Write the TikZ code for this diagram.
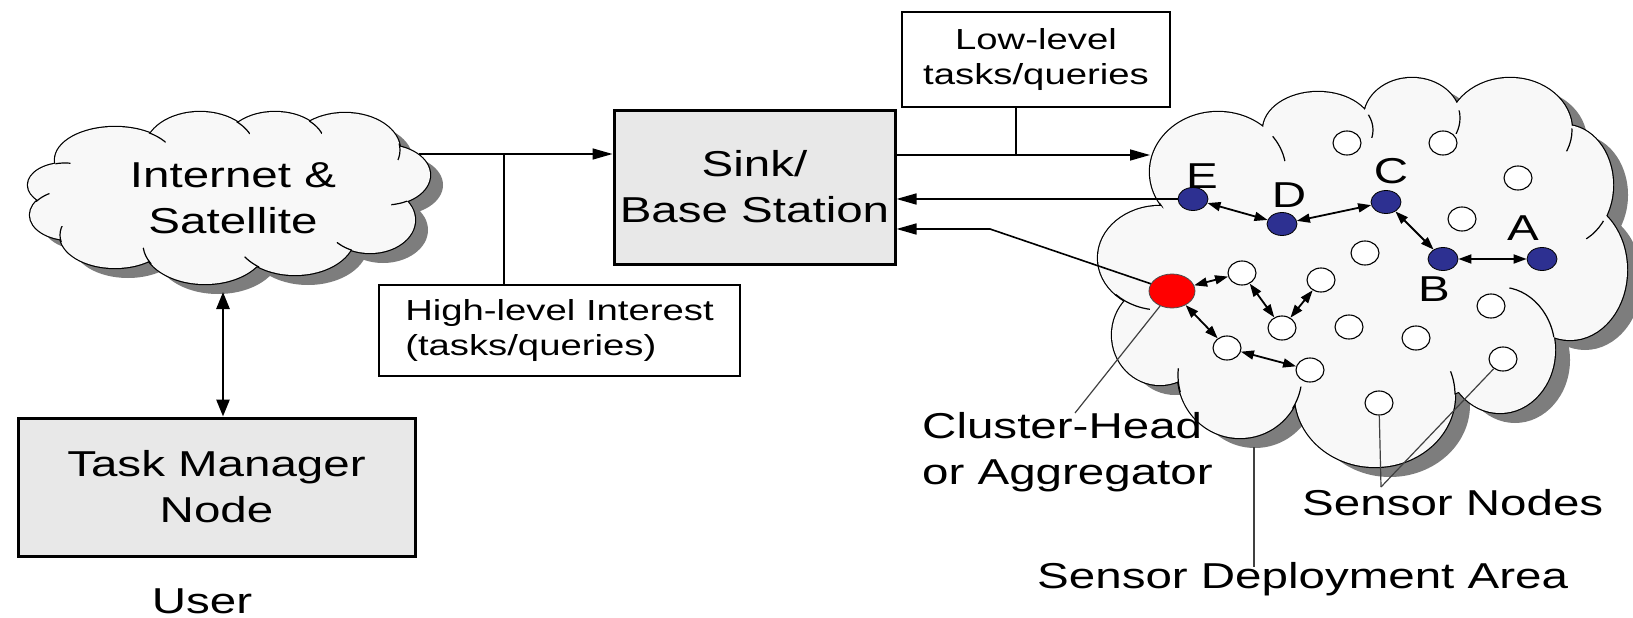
\documentclass[tikz,border=0pt]{standalone}
\usepackage{fontspec}
\setmainfont{Liberation Sans}
\usetikzlibrary{arrows.meta,shapes.geometric}
\definecolor{cloudfill}{RGB}{248,248,248}
\definecolor{shadowgray}{RGB}{125,125,125}
\definecolor{boxfill}{RGB}{232,232,232}
\definecolor{navy}{RGB}{45,48,145}
\newcommand{\Wd}[1]{\scalebox{1.32}[1]{#1}}
\newcommand{\bigf}{\fontsize{36}{46}\selectfont}
\newcommand{\smallf}{\fontsize{29}{34.5}\selectfont}
\newcommand{\tailarc}[7]{\begin{scope}\clip (#5,#6) circle [radius=#7]; \draw[line width=1.2pt] (#1,#2) ellipse [x radius=#3, y radius=#4];\end{scope}}
\tikzset{
  lcloud/.style={insert path={
    (115,160) ellipse [x radius=60, y radius=33]
    (200,150) ellipse [x radius=55, y radius=38]
    (275,145) ellipse [x radius=50, y radius=33]
    (345,150) ellipse [x radius=55, y radius=37]
    (385,175) ellipse [x radius=45, y radius=30]
    (370,220) ellipse [x radius=45, y radius=33]
    (295,235) ellipse [x radius=60, y radius=40]
    (205,244) ellipse [x radius=62, y radius=40]
    (115,235) ellipse [x radius=55, y radius=33]
    (70,215) ellipse [x radius=40, y radius=25]
    (65,185) ellipse [x radius=37, y radius=22]
    (230,195) ellipse [x radius=150, y radius=55]}},
  rcloud/.style={insert path={
    (1218,172) ellipse [x radius=68, y radius=60]
    (1318,130) ellipse [x radius=55, y radius=38]
    (1412,118) ellipse [x radius=48, y radius=40]
    (1510,130) ellipse [x radius=62, y radius=52]
    (1565,185) ellipse [x radius=48, y radius=60]
    (1570,270) ellipse [x radius=57, y radius=70]
    (1500,350) ellipse [x radius=55, y radius=63]
    (1375,395) ellipse [x radius=80, y radius=72]
    (1240,375) ellipse [x radius=62, y radius=63]
    (1160,335) ellipse [x radius=48, y radius=50]
    (1160,258) ellipse [x radius=62, y radius=52]
    (1360,270) ellipse [x radius=200, y radius=140]}}
}
\begin{document}
\begin{tikzpicture}[x=1pt,y=-1pt,
  graybox/.style={draw=black, line width=3pt, fill=boxfill, inner sep=0pt, align=center, font=\bigf},
  whitebox/.style={draw=black, line width=2.2pt, fill=white, inner sep=0pt, font=\smallf},
  conn/.style={line width=1.6pt, draw=black},
  arr/.style={conn, -{Triangle[length=20pt,width=11pt]}},
  wnode/.style={ellipse, draw=black, line width=1.1pt, fill=white, minimum width=28pt, minimum height=24pt, inner sep=0pt},
  bnode/.style={ellipse, draw=black, line width=0.8pt, fill=navy, minimum width=30pt, minimum height=23pt, inner sep=0pt},
  rnode/.style={ellipse, draw=black!70, line width=0.8pt, fill=red, minimum width=46pt, minimum height=34pt, inner sep=0pt},
  link/.style={line width=1.8pt, {Triangle[length=13pt,width=9pt]}-{Triangle[length=13pt,width=9pt]}},
  lead/.style={line width=1.2pt, draw=black!75},
  lbl/.style={font=\bigf, inner sep=0pt},
]
\useasboundingbox (0,0) rectangle (1633,618);

% left cloud
\fill[shadowgray, shift={(13,10)}, lcloud];
\draw[line width=2.4pt, lcloud];
\fill[cloudfill, lcloud];
\tailarc{115}{160}{60}{33}{156}{140}{10}
\tailarc{200}{150}{55}{38}{243}{128}{9}
\tailarc{275}{145}{50}{33}{316}{127}{9}
\tailarc{345}{150}{55}{37}{402}{152}{9}
\tailarc{385}{175}{45}{30}{400}{206}{9}
\tailarc{370}{220}{45}{33}{343}{249}{9}
\tailarc{295}{235}{60}{40}{251}{263}{9}
\tailarc{205}{244}{62}{40}{147}{256}{9}
\tailarc{115}{235}{55}{33}{62}{234}{8}
\tailarc{70}{215}{40}{25}{42}{196}{8}
\tailarc{65}{185}{37}{22}{63}{166}{8}

% right cloud
\fill[shadowgray, shift={(15,10)}, rcloud];
\draw[line width=2.4pt, rcloud];
\fill[cloudfill, rcloud];
\tailarc{1218}{172}{68}{60}{1280}{148}{14}
\tailarc{1318}{130}{55}{38}{1372}{126}{12}
\tailarc{1412}{118}{48}{40}{1457}{122}{12}
\tailarc{1510}{130}{62}{52}{1570}{140}{12}
\tailarc{1565}{185}{48}{60}{1597}{232}{13}
\tailarc{1500}{350}{55}{63}{1540}{305}{35}
\tailarc{1375}{395}{80}{72}{1452}{383}{12}
\tailarc{1240}{375}{62}{63}{1298}{398}{12}
\tailarc{1240}{375}{62}{63}{1180}{380}{12}
\tailarc{1160}{258}{62}{52}{1130}{308}{20}
\tailarc{1218}{172}{68}{60}{1152}{212}{12}

% boxes and texts
\node[lbl, align=center] (inet) at (233,198.5) {\Wd{Internet \&}\\\Wd{Satellite}};
\node[graybox, minimum width=281pt, minimum height=154pt] (sink) at (754.5,187) {\Wd{Sink/}\\\Wd{Base Station}};
\node[graybox, minimum width=397pt, minimum height=138pt] (task) at (216.5,487) {\Wd{Task Manager}\\\Wd{Node}};
\node[whitebox, minimum width=361pt, minimum height=91pt, align=left] (high) at (559.5,330.5) {\Wd{High-level Interest}\\\Wd{(tasks/queries)}};
\node[whitebox, minimum width=268pt, minimum height=95pt, align=center] (low) at (1036,59.5) {\Wd{Low-level}\\\Wd{tasks/queries}};
\node[lbl, anchor=base] (user) at (202,613) {\Wd{User}};

% sensor nodes
\node[bnode] (nE) at (1193,199) {};
\node[bnode] (nD) at (1282,224) {};
\node[bnode] (nC) at (1386,202) {};
\node[bnode] (nB) at (1443,259) {};
\node[bnode] (nA) at (1542,259) {};
\node[rnode] (nR) at (1172,291) {};
\node[wnode] (w1) at (1242,273) {};
\node[wnode] (w2) at (1321,280) {};
\node[wnode] (w3) at (1282,328) {};
\node[wnode] (w4) at (1227,348) {};
\node[wnode] (w5) at (1310,370) {};
\node[wnode] (w6) at (1347,143) {};
\node[wnode] (w7) at (1443,143) {};
\node[wnode] (w8) at (1518,178) {};
\node[wnode] (w9) at (1462,219) {};
\node[wnode] (w10) at (1365,253) {};
\node[wnode] (w11) at (1349,327) {};
\node[wnode] (w12) at (1416,338) {};
\node[wnode] (w13) at (1491,306) {};
\node[wnode] (w14) at (1503,359) {};
\node[wnode] (w15) at (1379,403) {};

\node[lbl, anchor=base] (lE) at (1202,188) {\Wd{E}};
\node[lbl, anchor=base] (lD) at (1289,207) {\Wd{D}};
\node[lbl, anchor=base] (lC) at (1391,183) {\Wd{C}};
\node[lbl, anchor=base] (lB) at (1434,301) {\Wd{B}};
\node[lbl, anchor=base] (lA) at (1523,240) {\Wd{A}};

\node[lbl, align=left, anchor=west] (clh) at (922,452) {\Wd{Cluster-Head}\\\Wd{or Aggregator}};
\node[lbl, anchor=base west] (sda) at (1037,588) {\Wd{Sensor Deployment Area}};
\node[lbl, anchor=base west] (sns) at (1302,515) {\Wd{Sensor Nodes}};

% connectors
\coordinate (cb) at (223,292);
\draw[line width=2.7pt, {Triangle[length=17pt,width=13pt]}-{Triangle[length=17pt,width=13pt]}] (cb) -- (cb |- task.north);

\coordinate (lcR) at (419,154);
\draw[arr] (lcR) -- (lcR -| sink.west);
\coordinate (hj) at (504,154);
\draw[conn] (hj) -- (hj |- high.north);

\coordinate (rcL) at (1150,155);
\draw[arr] (rcL -| sink.east) -- (rcL);
\coordinate (lj) at (1016,155);
\draw[conn] (low.south -| lj) -- (lj);

\draw[arr] (nE.west) -- (nE.west -| sink.east);
\coordinate (rk) at (990,229);
\draw[arr] (nR) -- (rk) -- (rk -| sink.east);

\draw[link] (nE) -- (nD);
\draw[link] (nD) -- (nC);
\draw[link] (nC) -- (nB);
\draw[link] (nB) -- (nA);
\draw[link] (nR) -- (w1);
\draw[link] (w1) -- (w3);
\draw[link] (w2) -- (w3);
\draw[link] (nR) -- (w4);
\draw[link] (w4) -- (w5);

% leaders
\coordinate (clhTip) at (1075,413);
\draw[lead] (nR) -- (clhTip);
\coordinate (sdTop) at (1254,447);
\coordinate (sdBot) at (1254,567);
\draw[lead] (sdTop) -- (sdBot);
\coordinate (snJ) at (1381,487);
\draw[lead] (w15) -- (snJ);
\draw[lead] (w14) -- (snJ);
\end{tikzpicture}
\end{document}
